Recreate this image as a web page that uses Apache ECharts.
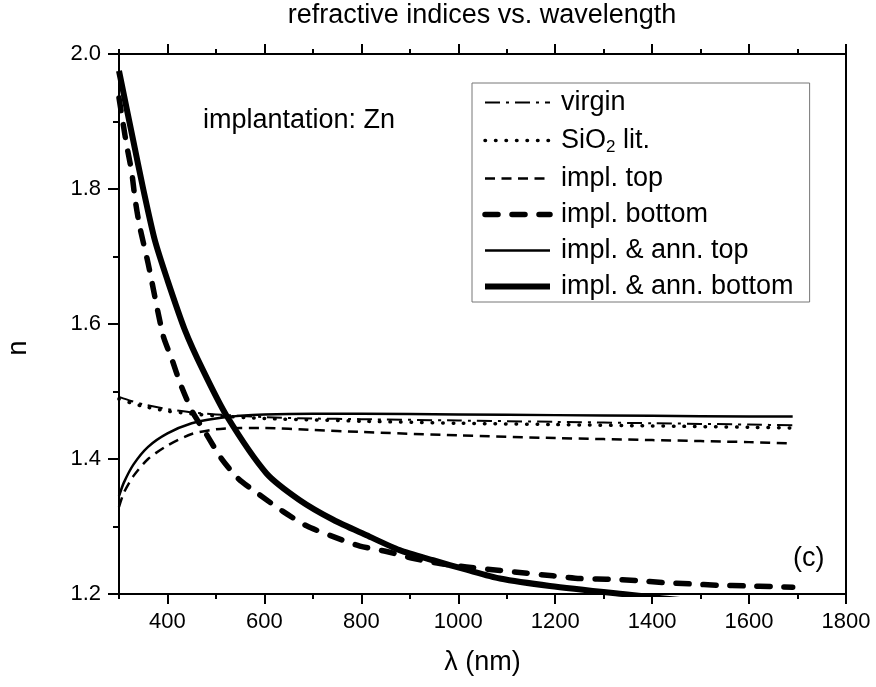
<!DOCTYPE html>
<html>
<head>
<meta charset="utf-8">
<script src="https://cdn.jsdelivr.net/npm/echarts@6/dist/echarts.min.js"></script>
<style>html,body{margin:0;padding:0;background:#fff}#c{width:876px;height:687px}</style>
</head>
<body>
<div id="c"></div>
<script>
const FONT = 'Liberation Sans, Arial, sans-serif';
const titleText = 'refractive indices vs. wavelength';
const xName = 'λ (nm)';
const yName = 'n';
const xMajorTicks = [400, 600, 800, 1000, 1200, 1400, 1600, 1800];
const seriesNames = ['virgin', 'SiO2 lit.', 'impl. top', 'impl. bottom', 'impl. & ann. top', 'impl. & ann. bottom'];

const virginL = [300, 325, 350, 400, 450, 500, 600, 700, 800, 1000, 1200, 1400, 1600, 1690];
const virginN = [1.492, 1.486, 1.481, 1.474, 1.469, 1.466, 1.462, 1.460, 1.459, 1.457, 1.455, 1.453, 1.451, 1.450];

const sio2L = [300, 325, 350, 400, 450, 500, 600, 700, 800, 1000, 1200, 1400, 1600, 1690];
const sio2N = [1.489, 1.483, 1.478, 1.471, 1.467, 1.464, 1.460, 1.458, 1.456, 1.453, 1.451, 1.449, 1.447, 1.446];

const implTopL = [300, 310, 330, 360, 400, 450, 500, 550, 600, 700, 800, 1000, 1200, 1400, 1600, 1690];
const implTopN = [1.329, 1.350, 1.375, 1.400, 1.420, 1.437, 1.444, 1.446, 1.446, 1.443, 1.440, 1.435, 1.431, 1.428, 1.425, 1.423];

const implBotL = [300, 315, 326, 333, 342, 360, 391, 408, 429, 453, 480, 511, 546, 590, 639, 687, 742, 797, 852, 906, 962, 1017, 1071, 1137, 1195, 1251, 1309, 1368, 1422, 1478, 1535, 1595, 1649, 1690];
const implBotN = [1.935, 1.868, 1.826, 1.786, 1.747, 1.690, 1.583, 1.550, 1.507, 1.468, 1.437, 1.401, 1.371, 1.347, 1.322, 1.301, 1.285, 1.271, 1.263, 1.253, 1.245, 1.240, 1.236, 1.231, 1.227, 1.223, 1.222, 1.220, 1.217, 1.215, 1.213, 1.212, 1.211, 1.210];

const annTopL = [300, 310, 330, 360, 400, 450, 500, 550, 600, 700, 800, 1000, 1200, 1400, 1600, 1690];
const annTopN = [1.345, 1.365, 1.392, 1.418, 1.438, 1.453, 1.460, 1.464, 1.466, 1.467, 1.467, 1.466, 1.465, 1.464, 1.463, 1.463];

const annBotL = [300, 329, 350, 374, 400, 436, 473, 522, 604, 673, 742, 811, 879, 948, 1017, 1086, 1189, 1339, 1500, 1690];
const annBotN = [1.975, 1.873, 1.800, 1.724, 1.665, 1.591, 1.532, 1.464, 1.379, 1.339, 1.310, 1.287, 1.265, 1.250, 1.236, 1.223, 1.212, 1.200, 1.188, 1.176];

function pairs(xs, ys) { return xs.map((x, i) => [x, ys[i]]); }

const styles = [
  { width: 2, type: [15, 6, 3, 6], cap: 'butt' },
  { width: 3.5, type: [0.5, 10], cap: 'round' },
  { width: 2.5, type: [10, 6.5], cap: 'butt' },
  { width: 5.5, type: [13, 14], cap: 'round' },
  { width: 2.5, type: 'solid', cap: 'butt' },
  { width: 6, type: 'solid', cap: 'butt' }
];
const datasets = [
  pairs(virginL, virginN), pairs(sio2L, sio2N), pairs(implTopL, implTopN),
  pairs(implBotL, implBotN), pairs(annTopL, annTopN), pairs(annBotL, annBotN)
];

const series = seriesNames.map((name, i) => ({
  name: name,
  type: 'line',
  xAxisIndex: 0,
  yAxisIndex: 0,
  data: datasets[i],
  smooth: 0.25,
  symbol: 'none',
  showSymbol: false,
  clip: true,
  lineStyle: { color: '#000', width: styles[i].width, type: styles[i].type, cap: styles[i].cap, join: 'round' },
  itemStyle: { color: '#000' },
  animation: false
}));

const xBase = { type: 'value', min: 300, max: 1800, gridIndex: 0, splitLine: { show: false } };
const axisLineStyle = { show: true, lineStyle: { color: '#000', width: 2 } };

const chart = echarts.init(document.getElementById('c'), null, { renderer: 'canvas' });
chart.setOption({
  animation: false,
  backgroundColor: '#fff',
  title: {
    text: titleText, left: 482, top: 2, textAlign: 'center', padding: 0,
    textStyle: { fontFamily: FONT, fontSize: 27, fontWeight: 'normal', color: '#000' }
  },
  grid: { left: 119, right: 30, top: 54, bottom: 93, show: true, borderColor: '#000', borderWidth: 2, containLabel: false },
  legend: {
    orient: 'vertical', left: 472, top: 83,
    padding: [6, 16, 2, 10],
    itemWidth: 65, itemHeight: 14, itemGap: 9,
    borderColor: '#777', borderWidth: 1, backgroundColor: '#fff',
    itemStyle: { opacity: 0, borderWidth: 0 },
    lineStyle: { width: 'inherit' },
    textStyle: {
      fontFamily: FONT, fontSize: 27, color: '#000', lineHeight: 22, padding: [0, 0, 0, 6],
      rich: {
        sub: { fontFamily: FONT, fontSize: 17, color: '#000', padding: [14, 0, 0, 0], lineHeight: 22 }
      }
    },
    formatter: function (name) { return name === 'SiO2 lit.' ? 'SiO{sub|2} lit.' : name; },
    data: seriesNames.map((n) => ({ name: n }))
  },
  xAxis: [
    Object.assign({}, xBase, {
      position: 'bottom', axisLine: axisLineStyle,
      axisTick: { show: true, customValues: xMajorTicks, length: 10, inside: false, lineStyle: { color: '#000', width: 2 } },
      axisLabel: { show: true, customValues: xMajorTicks, margin: 17, fontFamily: FONT, fontSize: 22, color: '#000', formatter: (v) => String(v) },
      name: xName, nameLocation: 'middle', nameGap: 55,
      nameTextStyle: { fontFamily: FONT, fontSize: 27, color: '#000' }
    }),
    Object.assign({}, xBase, {
      position: 'bottom', interval: 100, axisLine: { show: false },
      axisTick: { show: true, length: 5, inside: false, lineStyle: { color: '#000', width: 2 } },
      axisLabel: { show: false }
    }),
    Object.assign({}, xBase, {
      position: 'top', axisLine: axisLineStyle,
      axisTick: { show: true, customValues: xMajorTicks, length: 10, inside: false, lineStyle: { color: '#000', width: 2 } },
      axisLabel: { show: false }
    }),
    Object.assign({}, xBase, {
      position: 'top', interval: 100, axisLine: { show: false },
      axisTick: { show: true, length: 5, inside: false, lineStyle: { color: '#000', width: 2 } },
      axisLabel: { show: false }
    })
  ],
  yAxis: [{
    type: 'value', min: 1.2, max: 2.0, interval: 0.2, position: 'left',
    axisLine: axisLineStyle,
    axisTick: { show: true, length: 11, inside: false, lineStyle: { color: '#000', width: 2 } },
    minorTick: { show: true, splitNumber: 2, length: 6, lineStyle: { color: '#000', width: 2 } },
    splitLine: { show: false },
    axisLabel: { margin: 18, fontFamily: FONT, fontSize: 22, color: '#000', formatter: (v) => v.toFixed(1) }
  }],
  graphic: [
    { type: 'text', x: 19, y: 348, rotation: Math.PI / 2, style: { text: yName, font: '27px ' + FONT, fill: '#000', align: 'center', verticalAlign: 'middle' } },
    { type: 'text', left: 203, top: 107, style: { text: 'implantation: Zn', font: '27px ' + FONT, fill: '#000' } },
    { type: 'text', left: 793, top: 545, style: { text: '(c)', font: '27px ' + FONT, fill: '#000' } }
  ],
  series: series
});
</script>
</body>
</html>
